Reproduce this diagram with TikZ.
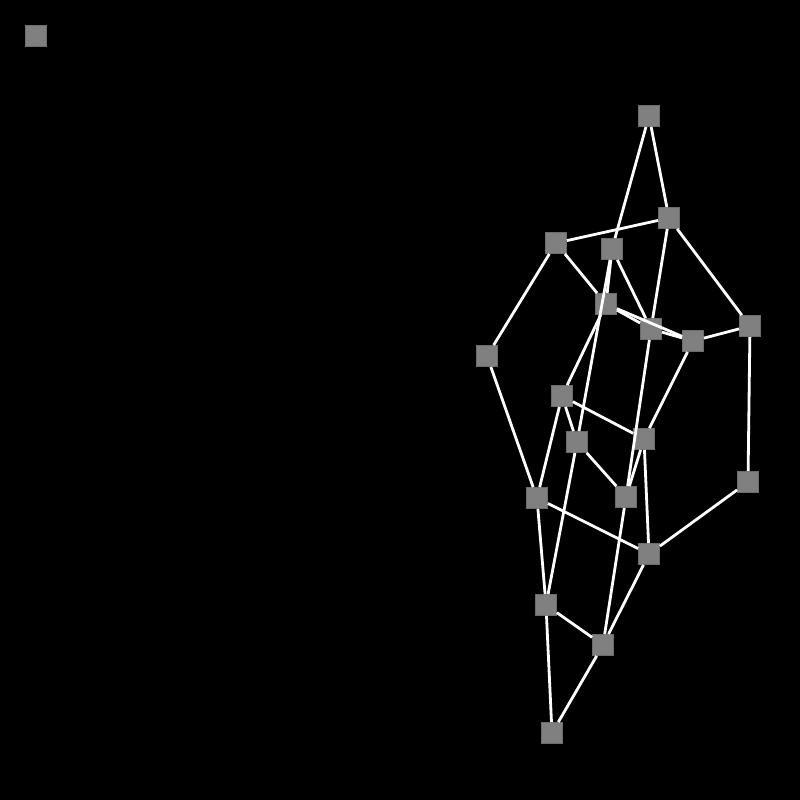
\documentclass[tikz,border=0pt]{standalone}
\usepackage{tikz}
\tikzset{
  vtx/.style={rectangle,fill=gray,draw=gray!85!black,line width=0.4pt,minimum size=10.5pt,inner sep=0pt},
  edg/.style={draw=white,line width=1.4pt}
	}

\begin{document}
\begin{tikzpicture}[x=0.5pt,y=-0.5pt]
%
\fill[black] (0,0) rectangle (800,800);
\useasboundingbox (0,0) rectangle (800,800);
%
\node[vtx] (a) at (36,36) {};
\node[vtx] (v1) at (649,116) {};
\node[vtx] (v2) at (669,218) {};
\node[vtx] (v3) at (556,243) {};
\node[vtx] (v4) at (612,249) {};
\node[vtx] (v5) at (606,304) {};
\node[vtx] (v6) at (651,329) {};
\node[vtx] (v7) at (693,341) {};
\node[vtx] (v8) at (750,326) {};
\node[vtx] (v9) at (487,356) {};
\node[vtx] (v10) at (562,396) {};
\node[vtx] (v11) at (577,442) {};
\node[vtx] (v12) at (644,439) {};
\node[vtx] (v13) at (537,498) {};
\node[vtx] (v14) at (626,497) {};
\node[vtx] (v15) at (748,482) {};
\node[vtx] (v16) at (649,554) {};
\node[vtx] (v17) at (546,605) {};
\node[vtx] (v18) at (603,645) {};
\node[vtx] (v19) at (552,733) {};
%
\foreach \s/\t in {v1/v2,v1/v4,v2/v3,v2/v8,v2/v6,v3/v5,v3/v9,v4/v5,v4/v6,v4/v11,
  v5/v6,v5/v7,v6/v7,v5/v10,v7/v8,v7/v12,v8/v15,v6/v14,v9/v13,v10/v11,v10/v12,
  v10/v13,v11/v14,v11/v17,v12/v14,v12/v16,v13/v16,v13/v17,v14/v18,v15/v16,
  v16/v18,v17/v18,v17/v19,v18/v19}
  \path[edg] (\s) -- (\t);
%
\end{tikzpicture}
\end{document}
